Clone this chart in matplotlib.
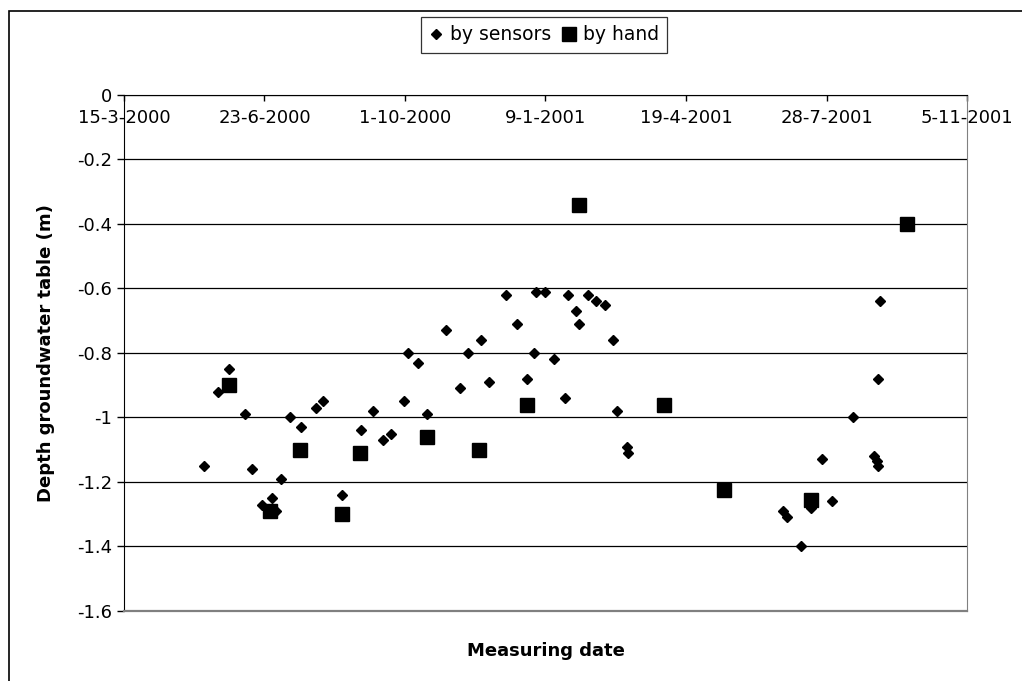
import numpy as np
import pandas as pd
import matplotlib
matplotlib.use("Agg")
import matplotlib.pyplot as plt
import matplotlib.transforms as mtransforms
from matplotlib.patches import Rectangle

# groundwater depth logged by the sensors
sensor_dates = ['2000-05-11', '2000-05-21', '2000-05-29', '2000-06-09', '2000-06-14',
                '2000-06-21', '2000-06-28', '2000-07-01', '2000-07-05', '2000-07-11',
                '2000-07-19', '2000-07-30', '2000-08-04', '2000-08-17', '2000-08-31',
                '2000-09-08', '2000-09-15', '2000-09-21', '2000-09-30', '2000-10-03',
                '2000-10-10', '2000-10-17', '2000-10-30', '2000-11-09', '2000-11-15',
                '2000-11-24', '2000-11-30', '2000-12-12', '2000-12-20', '2000-12-27',
                '2001-01-01', '2001-01-02', '2001-01-09', '2001-01-15', '2001-01-23',
                '2001-01-25', '2001-01-31', '2001-02-02', '2001-02-08', '2001-02-14',
                '2001-02-20', '2001-02-26', '2001-03-01', '2001-03-08', '2001-03-09',
                '2001-06-27', '2001-06-30', '2001-07-10', '2001-07-17', '2001-07-25',
                '2001-08-01', '2001-08-16', '2001-08-31', '2001-09-02', '2001-09-03',
                '2001-09-03', '2001-09-04']
sensor_depth = [-1.15, -0.92, -0.85, -0.99, -1.16,
                -1.27, -1.25, -1.29, -1.19, -1.00,
                -1.03, -0.97, -0.95, -1.24, -1.04,
                -0.98, -1.07, -1.05, -0.95, -0.80,
                -0.83, -0.99, -0.73, -0.91, -0.80,
                -0.76, -0.89, -0.62, -0.71, -0.88,
                -0.80, -0.61, -0.61, -0.82, -0.94,
                -0.62, -0.67, -0.71, -0.62, -0.64,
                -0.65, -0.76, -0.98, -1.09, -1.11,
                -1.29, -1.31, -1.40, -1.28, -1.13,
                -1.26, -1.00, -1.12, -1.135, -1.15,
                -0.88, -0.64]

# manual readings
hand_dates = ['2000-05-29', '2000-06-27', '2000-07-18', '2000-08-17', '2000-08-30',
              '2000-10-17', '2000-11-23', '2000-12-27', '2001-02-02', '2001-04-03',
              '2001-05-16', '2001-07-17', '2001-09-23']
hand_depth = [-0.90, -1.29, -1.10, -1.30, -1.11,
              -1.06, -1.10, -0.96, -0.34, -0.96,
              -1.225, -1.256, -0.40]

x_start = pd.Timestamp('2000-03-15')
x_end = pd.Timestamp('2001-11-05')
x_ticks = pd.date_range(x_start, x_end, freq='100D')

plt.rcParams['font.family'] = 'DejaVu Sans'

fig = plt.figure(figsize=(10.22, 6.81), dpi=100)
ax = fig.add_axes([0.1213, 0.1028, 0.8249, 0.7577])

# outer chart border
fig.patches.append(Rectangle((9 / 1022, -0.05), 1.2, 0.9838 + 0.05, transform=fig.transFigure,
                             fill=False, edgecolor='black', linewidth=1.2))

ax.plot(pd.to_datetime(sensor_dates), sensor_depth, linestyle='none', marker='D',
        markersize=5.6, color='black', label='by sensors')
ax.plot(pd.to_datetime(hand_dates), hand_depth, linestyle='none', marker='s',
        markersize=9.5, color='black', label='by hand')

ax.set_xlim(x_start, x_end)
ax.set_ylim(-1.6, 0)
ax.set_yticks(np.arange(-1.6, 0.01, 0.2))
ax.set_yticklabels(['-1.6', '-1.4', '-1.2', '-1', '-0.8', '-0.6', '-0.4', '-0.2', '0'])
ax.tick_params(axis='y', direction='out', length=5, width=1, pad=3.5, labelsize=13)
ax.yaxis.grid(True, color='black', linewidth=0.9)

# date axis sits at depth 0, labels just below it
ax.set_xticks(x_ticks)
ax.tick_params(axis='x', bottom=False, top=True, labelbottom=False, labeltop=False,
               direction='in', length=4.5, width=1)
trans = mtransforms.blended_transform_factory(ax.transData, ax.transAxes)
for d in x_ticks:
    ax.text(d, 0.955, f"{d.day}-{d.month}-{d.year}", transform=trans,
            ha='center', va='center', fontsize=13)

ax.spines['top'].set_color('black')
ax.spines['left'].set_color('black')
ax.spines['right'].set_color('#808080')
ax.spines['bottom'].set_color('#808080')
ax.spines['bottom'].set_linewidth(1.6)
for s in ax.spines.values():
    s.set_zorder(3)

ax.set_ylabel('Depth groundwater table (m)', fontsize=13, fontweight='bold', labelpad=16)
ax.set_xlabel('Measuring date', fontsize=13, fontweight='bold', labelpad=22)

leg = fig.legend(loc='upper center', bbox_to_anchor=(544 / 1022, 1 - 17 / 681), ncol=2,
                 fontsize=13.5, frameon=True, fancybox=False, edgecolor='black',
                 handlelength=0.7, handletextpad=0.4, columnspacing=0.6,
                 borderpad=0.45, borderaxespad=0)
leg.get_frame().set_linewidth(0.9)

fig.savefig('out.png', dpi=100)
